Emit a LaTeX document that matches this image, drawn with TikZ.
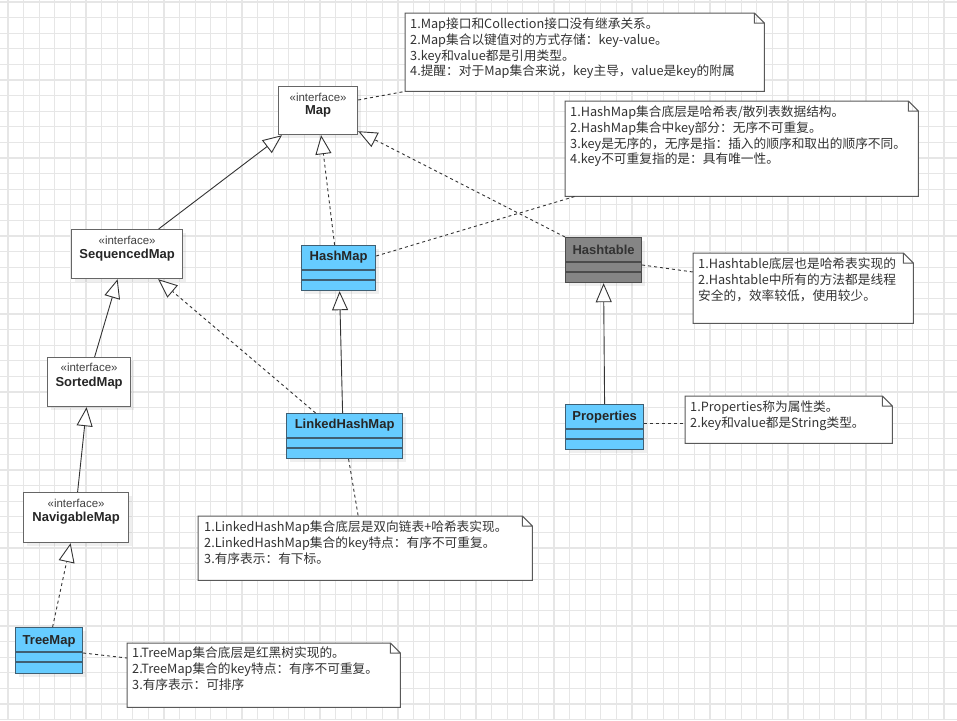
\documentclass[tikz,border=0pt]{standalone}
\usepackage{fontspec}
\setmainfont{Liberation Sans}
\newfontfamily\cjk{Noto Sans CJK SC}
\usetikzlibrary{arrows.meta,shadows}
\definecolor{gridgray}{HTML}{E6E6E6}
\definecolor{classblue}{HTML}{66CCFF}
\definecolor{classline}{HTML}{3F5F73}
\definecolor{tablegray}{HTML}{858585}
\definecolor{boxline}{HTML}{666666}
\definecolor{linkgray}{HTML}{333333}

\begin{document}
\begin{tikzpicture}[x=1pt,y=-1pt,
	box/.style={draw=boxline,line width=1.2pt,fill=white,anchor=north west,inner sep=0pt,
		drop shadow={shadow xshift=3pt,shadow yshift=-3pt,opacity=0.12}},
	cls/.style={box,draw=classline,fill=classblue},
	stereo/.style={font=\fontsize{11.5}{12}\selectfont,text=black!75},
	title/.style={font=\fontsize{13}{14}\selectfont\bfseries,text=black!85},
	note/.style={anchor=north west,inner sep=0pt},
	notetext/.style={anchor=north west,align=left,inner sep=0pt,
		font=\cjk\fontsize{12.7}{15.6}\selectfont,text=black!80},
	notebd/.style={draw=black!65,line width=1pt,fill=white},
	gridline/.style={draw=gridgray,line width=1.2pt},
	extends/.style={draw=linkgray,line width=0.9pt,-{Triangle[length=19pt,width=16pt,fill=white]}},
	implements/.style={extends,dash pattern=on 3pt off 3pt},
	anchorline/.style={draw=linkgray,line width=0.9pt,dash pattern=on 3pt off 3pt}]

	\useasboundingbox (0,0) rectangle (957,720);
	\fill[white] (0,0) rectangle (957,720);
	% background grid
	\foreach \gx in {0,...,61}
		\draw[gridline] (8+15.6*\gx,0) -- (8+15.6*\gx,720);
	\foreach \gy in {0,...,46}
		\draw[gridline] (0,2+15.6*\gy) -- (957,2+15.6*\gy);

	% interfaces
	\node[box,minimum width=79,minimum height=48] (map) at (278,86) {};
	\node[stereo] at ([yshift=-11]map.north) {«interface»};
	\node[title] at ([yshift=-25]map.north) {Map};

	\node[box,minimum width=111,minimum height=49] (seqmap) at (71,229) {};
	\node[stereo] at ([yshift=-11]seqmap.north) {«interface»};
	\node[title] at ([yshift=-26]seqmap.north) {SequencedMap};

	\node[box,minimum width=83,minimum height=49] (sorted) at (47,357) {};
	\node[stereo] at ([yshift=-10]sorted.north) {«interface»};
	\node[title] at ([yshift=-26]sorted.north) {SortedMap};

	\node[box,minimum width=105,minimum height=50] (nav) at (23,492) {};
	\node[stereo] at ([yshift=-11]nav.north) {«interface»};
	\node[title] at ([yshift=-26]nav.north) {NavigableMap};

	% classes
	\node[cls,minimum width=74,minimum height=45] (hashmap) at (301,245) {};
	\node[title] at ([yshift=-12]hashmap.north) {HashMap};

	\node[cls,draw=black!70,fill=tablegray,minimum width=76,minimum height=45] (hashtable) at (565,237) {};
	\node[title,text=black!80] at ([yshift=-13]hashtable.north) {Hashtable};

	\node[cls,minimum width=116,minimum height=45] (linked) at (286,413) {};
	\node[title] at ([yshift=-12]linked.north) {LinkedHashMap};

	\node[cls,minimum width=78,minimum height=45] (props) at (565,404) {};
	\node[title] at ([yshift=-13]props.north) {Properties};

	\node[cls,minimum width=67,minimum height=46] (treemap) at (15,627) {};
	\node[title] at ([yshift=-14]treemap.north) {TreeMap};

	\foreach \c/\col in {hashmap/classline,hashtable/black!70,linked/classline,props/classline,treemap/classline}{
		\draw[\col,line width=1.2pt] ([yshift=-25]\c.north west) -- ([yshift=-25]\c.north east);
		\draw[\col,line width=1.2pt] ([yshift=-35]\c.north west) -- ([yshift=-35]\c.north east);
	}

	% inheritance
	\draw[extends] ([xshift=31.5]seqmap.north) -- ([xshift=4]map.south west);
	\draw[implements] ([xshift=-4]hashmap.north) -- ([xshift=3]map.south);
	\draw[implements] (hashtable.north west) -- ([yshift=4]map.south east);
	\draw[implements] ([xshift=-29]linked.north) -- ([xshift=-25]seqmap.south east);
	\draw[extends] ([xshift=-2]linked.north) -- ([xshift=1]hashmap.south);
	\draw[extends] ([xshift=5.5]sorted.north) -- ([xshift=-9.5]seqmap.south);
	\draw[extends] ([xshift=1.5]nav.north) -- ([xshift=-2.5]sorted.south);
	\draw[implements] ([xshift=3.5]treemap.north) -- ([xshift=-5.5]nav.south);
	\draw[extends] (props.north) -- (hashtable.south);

	% notes
	\node[note,minimum width=359,minimum height=78] (mapnote) at (405,13) {};
	\node[note,minimum width=353,minimum height=95] (hmnote) at (565,101) {};
	\node[note,minimum width=220,minimum height=70] (htnote) at (693,253) {};
	\node[note,minimum width=207,minimum height=47] (propnote) at (685,396) {};
	\node[note,minimum width=334,minimum height=64] (lhmnote) at (198,516) {};
	\node[note,minimum width=273,minimum height=64] (tmnote) at (127,643) {};
	\foreach \n in {mapnote,hmnote,htnote,propnote,lhmnote,tmnote}
		\draw[notebd] (\n.south west) -- (\n.north west) -- ([xshift=-10]\n.north east)
			-- ([yshift=-10]\n.north east) -- (\n.south east) -- cycle
			([xshift=-10]\n.north east) -- ([xshift=-10,yshift=-10]\n.north east) -- ([yshift=-10]\n.north east);

	\node[notetext] at ([xshift=5,yshift=-5]mapnote.north west)
		{1.Map接口和Collection接口没有继承关系。\\2.Map集合以键值对的方式存储：key-value。\\3.key和value都是引用类型。\\4.提醒：对于Map集合来说，key主导，value是key的附属};
	\node[notetext] at ([xshift=5,yshift=-5]hmnote.north west)
		{1.HashMap集合底层是哈希表/散列表数据结构。\\2.HashMap集合中key部分：无序不可重复。\\3.key是无序的，无序是指：插入的顺序和取出的顺序不同。\\4.key不可重复指的是：具有唯一性。};
	\node[notetext] at ([xshift=5,yshift=-5]htnote.north west)
		{1.Hashtable底层也是哈希表实现的\\2.Hashtable中所有的方法都是线程\\安全的，效率较低，使用较少。};
	\node[notetext] at ([xshift=5,yshift=-5]propnote.north west)
		{1.Properties称为属性类。\\2.key和value都是String类型。};
	\node[notetext] at ([xshift=6,yshift=-5]lhmnote.north west)
		{1.LinkedHashMap集合底层是双向链表+哈希表实现。\\2.LinkedHashMap集合的key特点：有序不可重复。\\3.有序表示：有下标。};
	\node[notetext] at ([xshift=5,yshift=-4]tmnote.north west)
		{1.TreeMap集合底层是红黑树实现的。\\2.TreeMap集合的key特点：有序不可重复。\\3.有序表示：可排序};

	% note links
	\draw[anchorline] ([yshift=-14]map.north east) -- (mapnote.south west);
	\draw[anchorline] ([yshift=-11]hashmap.north east) -- ([xshift=10]hmnote.south west);
	\draw[anchorline] ([yshift=-28]hashtable.north east) -- ([yshift=-19]htnote.north west);
	\draw[anchorline] ([yshift=-19]props.north east) -- ([yshift=-27]propnote.north west);
	\draw[anchorline] ([xshift=4]linked.south) -- ([xshift=-7]lhmnote.north);
	\draw[anchorline] ([yshift=-26]treemap.north east) -- ([yshift=-15]tmnote.north west);
\end{tikzpicture}
\end{document}
